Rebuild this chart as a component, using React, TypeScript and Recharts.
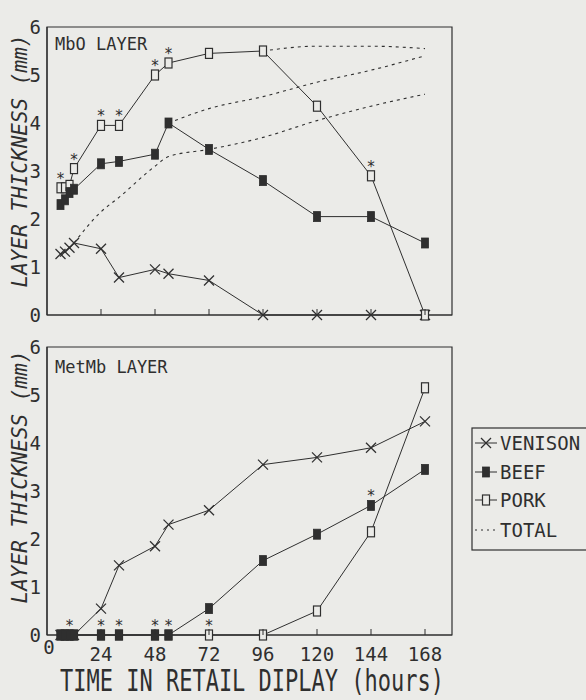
import React from 'react';
import { LineChart, Line, XAxis, YAxis, ReferenceArea } from 'recharts';

// sampling times (hours in retail display)
const hours = [6, 8, 10, 12, 24, 32, 48, 54, 72, 96, 120, 144, 168];
const xTicks = [0, 24, 48, 72, 96, 120, 144, 168];
const yTicks = [0, 1, 2, 3, 4, 5, 6];

// MbO layer (top panel), mm
const venisonMbO = [1.27, 1.32, 1.4, 1.5, 1.38, 0.78, 0.95, 0.86, 0.72, 0, 0, 0, 0];
const beefMbO = [2.3, 2.4, 2.55, 2.62, 3.15, 3.2, 3.35, 4.0, 3.45, 2.8, 2.05, 2.05, 1.5];
const porkMbO = [2.65, 2.65, 2.7, 3.05, 3.95, 3.95, 5.0, 5.25, 5.45, 5.5, 4.35, 2.9, 0];

// total thickness curves (dashed)
const venisonTotal = [null, null, null, 1.5, 2.15, 2.45, 3.1, 3.3, 3.45, 3.7, 4.05, 4.35, 4.6];
const beefTotal = [null, null, null, null, null, null, null, 4.0, 4.3, 4.55, 4.85, 5.1, 5.4];
const porkTotal = [null, null, null, null, null, null, null, null, null, 5.5, 5.6, 5.6, 5.55];

// MetMb layer (bottom panel), mm
const venisonMetMb = [0, 0, 0, 0, 0.55, 1.45, 1.85, 2.3, 2.6, 3.55, 3.7, 3.9, 4.45];
const beefMetMb = [0, 0, 0, 0, 0, 0, 0, 0, 0.55, 1.55, 2.1, 2.7, 3.45];
const porkMetMb = [0, 0, 0, 0, 0, 0, 0, 0, 0, 0, 0.5, 2.15, 5.15];

// which series carries a significance star at each time
const sigMbO = ['pork', null, null, 'pork', 'pork', 'pork', 'pork', 'pork', null, null, null, 'pork', null];
const sigMetMb = [null, null, 'beef', null, 'beef', 'beef', 'beef', 'beef', 'pork', null, null, 'beef', null];

const INK = '#2f2f2f';
const PAPER = '#ebebe8';
const MONO = '"DejaVu Sans Mono", monospace';

const mboRows = hours.map((h, i) => ({
  h,
  venison: venisonMbO[i],
  beef: beefMbO[i],
  pork: porkMbO[i],
  venisonTotal: venisonTotal[i],
  beefTotal: beefTotal[i],
  porkTotal: porkTotal[i],
  sig: sigMbO[i],
}));

const metRows = hours.map((h, i) => ({
  h,
  venison: venisonMetMb[i],
  beef: beefMetMb[i],
  pork: porkMetMb[i],
  sig: sigMetMb[i],
}));

const Marker = ({ kind, cx, cy }: any) => {
  if (kind === 'venison') {
    return (
      <g stroke={INK} strokeWidth={1.3}>
        <line x1={cx - 5} y1={cy - 5} x2={cx + 5} y2={cy + 5} />
        <line x1={cx - 5} y1={cy + 5} x2={cx + 5} y2={cy - 5} />
      </g>
    );
  }
  if (kind === 'beef') {
    return <rect x={cx - 3.5} y={cy - 5} width={7} height={10} fill={INK} stroke={INK} strokeWidth={0.8} />;
  }
  return <rect x={cx - 3.5} y={cy - 5} width={7} height={10} fill={PAPER} stroke={INK} strokeWidth={1.2} />;
};

const makeDot = (kind: string) => (props: any) => {
  const { cx, cy, index, payload } = props;
  if (cx == null || cy == null || payload[kind] == null) return <g key={`${kind}-${index}`} />;
  return (
    <g key={`${kind}-${index}`}>
      <Marker kind={kind} cx={cx} cy={cy} />
      {payload.sig === kind && (
        <text x={cx} y={cy - 4} textAnchor="middle" fontSize={15} fontFamily="DejaVu Sans" fill={INK}>
          *
        </text>
      )}
    </g>
  );
};

const XTick = ({ x, y, payload, showLabel }: any) => (
  <g>
    {payload.value !== 0 && <line x1={x} x2={x} y1={y} y2={y - 6} stroke={INK} strokeWidth={1} />}
    {showLabel && (
      <text
        x={payload.value === 0 ? x + 2 : x}
        y={payload.value === 0 ? y + 19 : y + 26}
        textAnchor="middle"
        fontSize={19}
        fontFamily={MONO}
        fill={INK}
      >
        {payload.value}
      </text>
    )}
  </g>
);

const Panel = ({ rows, showLabels, totals, height, xHeight }: any) => (
  <LineChart width={460} height={height} data={rows} margin={{ top: 27, right: 8, bottom: 0, left: 0 }}>
    <ReferenceArea x1={0} x2={180} y1={0} y2={6} fill="none" stroke={INK} strokeWidth={1.2} />
    <XAxis
      dataKey="h"
      type="number"
      domain={[0, 180]}
      ticks={xTicks}
      interval={0}
      height={xHeight}
      tickSize={0}
      tickMargin={0}
      axisLine={{ stroke: INK, strokeWidth: 1.2 }}
      tick={(p: any) => <XTick {...p} showLabel={showLabels} />}
    />
    <YAxis
      type="number"
      domain={[0, 6]}
      ticks={yTicks}
      interval={0}
      width={47}
      tickSize={0}
      tickMargin={6}
      axisLine={{ stroke: INK, strokeWidth: 1.2 }}
      tick={{ fill: INK, fontSize: 19, fontFamily: MONO }}
    />
    {totals &&
      ['venisonTotal', 'beefTotal', 'porkTotal'].map((k) => (
        <Line
          key={k}
          dataKey={k}
          type="monotone"
          stroke={INK}
          strokeWidth={1.1}
          strokeDasharray="3 4"
          dot={false}
          isAnimationActive={false}
        />
      ))}
    <Line dataKey="venison" type="linear" stroke={INK} strokeWidth={1} dot={makeDot('venison')} isAnimationActive={false} />
    <Line dataKey="pork" type="linear" stroke={INK} strokeWidth={1} dot={makeDot('pork')} isAnimationActive={false} />
    <Line dataKey="beef" type="linear" stroke={INK} strokeWidth={1} dot={makeDot('beef')} isAnimationActive={false} />
  </LineChart>
);

const legendItems = [
  { kind: 'venison', label: 'VENISON' },
  { kind: 'beef', label: 'BEEF' },
  { kind: 'pork', label: 'PORK' },
  { kind: 'total', label: 'TOTAL' },
];

export default function App() {
  return (
    <div
      style={{
        position: 'absolute',
        left: 0,
        top: 0,
        width: 586,
        height: 700,
        overflow: 'hidden',
        background: PAPER,
      }}
    >
      <div style={{ position: 'absolute', left: 0, top: 0 }}>
        <Panel rows={mboRows} showLabels={false} totals height={332} xHeight={17} />
      </div>
      <div style={{ position: 'absolute', left: 0, top: 320 }}>
        <Panel rows={metRows} showLabels totals={false} height={360} xHeight={45} />
      </div>
      <svg
        width={586}
        height={700}
        style={{ position: 'absolute', left: 0, top: 0, pointerEvents: 'none' }}
        fontFamily={MONO}
        fill={INK}
      >
        <text x={55} y={50} fontSize={17}>MbO LAYER</text>
        <text x={55} y={373} fontSize={17}>MetMb LAYER</text>
        <text transform="translate(27,161) rotate(-90)" textAnchor="middle" fontSize={21} fontStyle="italic">
          LAYER THICKNESS (mm)
        </text>
        <text transform="translate(27,477) rotate(-90)" textAnchor="middle" fontSize={21} fontStyle="italic">
          LAYER THICKNESS (mm)
        </text>
        <text transform="translate(60,691) scale(1,1.35)" fontSize={22}>
          TIME IN RETAIL DIPLAY (hours)
        </text>
        <rect x={472} y={428} width={140} height={122} fill="none" stroke={INK} strokeWidth={1.2} />
        {legendItems.map((it, i) => {
          const cy = [443, 472, 500, 530][i];
          return (
            <g key={it.kind}>
              {it.kind === 'total' ? (
                <line x1={475} x2={497} y1={cy} y2={cy} stroke={INK} strokeDasharray="2 4" strokeWidth={1.1} />
              ) : (
                <>
                  <line x1={475} x2={497} y1={cy} y2={cy} stroke={INK} strokeWidth={1} />
                  <Marker kind={it.kind} cx={486} cy={cy} />
                </>
              )}
              <text x={500} y={cy + 7} fontSize={19}>
                {it.label}
              </text>
            </g>
          );
        })}
      </svg>
    </div>
  );
}
